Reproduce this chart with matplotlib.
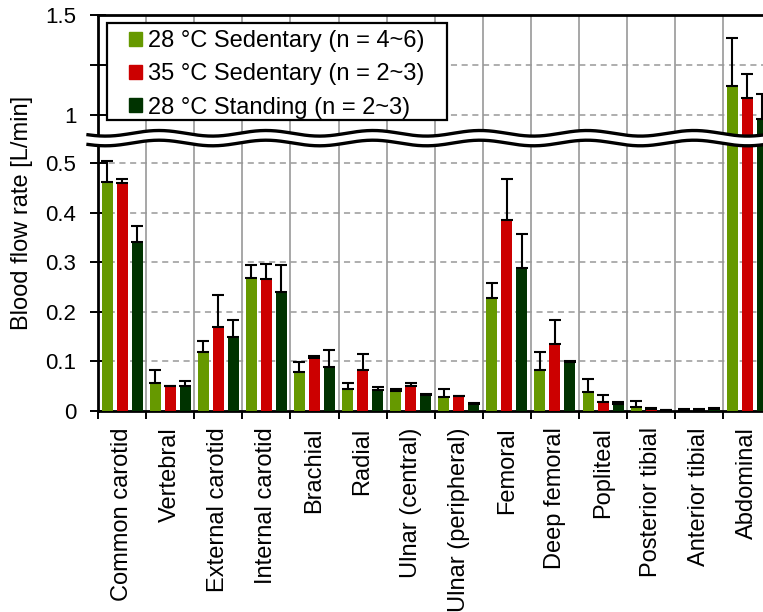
import numpy as np
import matplotlib.pyplot as plt
from matplotlib.patches import Patch, Polygon, Rectangle
from matplotlib.lines import Line2D

plt.rcParams['font.family'] = ['Liberation Sans', 'DejaVu Sans']

# flow rates per vessel [L/min], mean and upper error
vessels = ["Common carotid", "Vertebral", "External carotid", "Internal carotid",
           "Brachial", "Radial", "Ulnar (central)", "Ulnar (peripheral)", "Femoral",
           "Deep femoral", "Popliteal", "Posterior tibial", "Anterior tibial", "Abdominal"]

sed28 = [0.462, 0.056, 0.118, 0.268, 0.078, 0.043, 0.040, 0.028, 0.227, 0.083,
         0.037, 0.008, 0.002, 1.145]
sed28_err = [0.043, 0.026, 0.023, 0.027, 0.021, 0.013, 0.003, 0.015, 0.031, 0.036,
             0.028, 0.011, 0.001, 0.240]

sed35 = [0.460, 0.049, 0.170, 0.266, 0.107, 0.082, 0.050, 0.029, 0.385, 0.134,
         0.017, 0.004, 0.002, 1.085]
sed35_err = [0.008, 0.001, 0.063, 0.031, 0.004, 0.032, 0.006, 0.001, 0.083, 0.049,
             0.014, 0.0015, 0.001, 0.121]

std28 = [0.340, 0.049, 0.148, 0.239, 0.088, 0.041, 0.032, 0.013, 0.289, 0.098,
         0.0135, 0.001, 0.004, 0.980]
std28_err = [0.033, 0.011, 0.036, 0.055, 0.034, 0.006, 0.001, 0.002, 0.068, 0.003,
             0.004, 0.001, 0.001, 0.127]

labels = ["28 \u00b0C Sedentary (n = 4~6)", "35 \u00b0C Sedentary (n = 2~3)",
          "28 \u00b0C Standing (n = 2~3)"]
colors = ["#669900", "#cc0000", "#003300"]

series = [(sed28, sed28_err), (sed35, sed35_err), (std28, std28_err)]

W, H = 763, 612
fig = plt.figure(figsize=(W / 100, H / 100), dpi=100)

def px(x0, y0, x1, y1):
    # pixel box (top-left origin) -> figure fraction rect
    return [x0 / W, (H - y1) / H, (x1 - x0) / W, (y1 - y0) / H]

ax_lo = fig.add_axes(px(98, 138, 771.4, 410.7))
ax_hi = fig.add_axes(px(98, 15.3, 771.4, 138))

n = len(vessels)
xc = np.arange(n) + 0.5
offs = [-0.312, 0.0, 0.312]
bw = 0.23

for ax in (ax_lo, ax_hi):
    for (vals, errs), off, c in zip(series, offs, colors):
        ax.bar(xc + off, vals, bw, color=c, zorder=3)
        ax.errorbar(xc + off, vals, yerr=[np.zeros(n), errs], fmt='none',
                    ecolor='black', elinewidth=1.5, capsize=4.5, capthick=1.5,
                    zorder=4)
    ax.set_xlim(0, n)
    ax.set_xticks(np.arange(n + 1))
    ax.grid(axis='x', color='#a0a0a0', lw=1.3, zorder=1)
    ax.grid(axis='y', color='#999999', lw=1.1, ls=(0, (4, 3)), zorder=1)
    ax.spines['right'].set_visible(False)
    ax.tick_params(axis='y', direction='inout', length=11, width=1.4,
                   labelsize=16, pad=10)
    ax.spines['left'].set_linewidth(2)

ax_lo.set_ylim(0, 0.5511)
ax_lo.set_yticks([0, 0.1, 0.2, 0.3, 0.4, 0.5])
ax_lo.set_yticklabels(["0", "0.1", "0.2", "0.3", "0.4", "0.5"])
ax_lo.spines['top'].set_visible(False)
ax_lo.spines['bottom'].set_linewidth(2)
ax_lo.tick_params(axis='x', which='major', direction='out', length=6, width=1.4,
                  labelbottom=False)
ax_lo.set_xticks(xc, minor=True)
ax_lo.set_xticklabels(vessels, minor=True, rotation=90, fontsize=17)
ax_lo.tick_params(axis='x', which='minor', length=0, pad=12)

ax_hi.set_ylim(0.8847, 1.5)
ax_hi.set_yticks([1, 1.25, 1.5])
ax_hi.set_yticklabels(["1", "", "1.5"])
ax_hi.spines['bottom'].set_visible(False)
ax_hi.spines['top'].set_linewidth(2)
ax_hi.tick_params(axis='x', length=0, labelbottom=False)

# legend: boxed frame drawn separately so its padding can be set freely
box = Rectangle((107 / W, (H - 120) / H), 340 / W, 97 / H,
                transform=fig.transFigure, facecolor='white', edgecolor='black',
                lw=1.6, zorder=9, clip_on=False)
ax_hi.add_patch(box)
handles = [Patch(color=c, label=l) for c, l in zip(colors, labels)]
leg = ax_hi.legend(handles=handles, loc='upper left',
                   bbox_to_anchor=(129 / W, (H - 30) / H),
                   bbox_transform=fig.transFigure, fontsize=17, frameon=False,
                   handlelength=0.53, handleheight=0.53, handletextpad=0.27,
                   labelspacing=0.48, borderpad=0, borderaxespad=0)
leg.set_zorder(10)

fig.text(22 / W, (H - 213) / H, "Blood flow rate [L/min]", rotation=90,
         ha='center', va='center', fontsize=17)

# wavy break band across the axis
xs = np.linspace(88, W, 400)
wave = 2.8 * np.cos(2 * np.pi * (xs - 480) / 107)
y_top = 133.3 - wave
y_bot = 143.0 - wave
band = np.concatenate([np.column_stack([xs, y_top]),
                       np.column_stack([xs[::-1], y_bot[::-1]])])
band[:, 0] /= W
band[:, 1] = (H - band[:, 1]) / H
fig.add_artist(Polygon(band, closed=True, facecolor='white', edgecolor='none',
                       transform=fig.transFigure, zorder=20))
for yy in (y_top, y_bot):
    fig.add_artist(Line2D(xs / W, (H - yy) / H, color='black', lw=2.4,
                          transform=fig.transFigure, zorder=21))

fig.savefig("out.png", dpi=100)
